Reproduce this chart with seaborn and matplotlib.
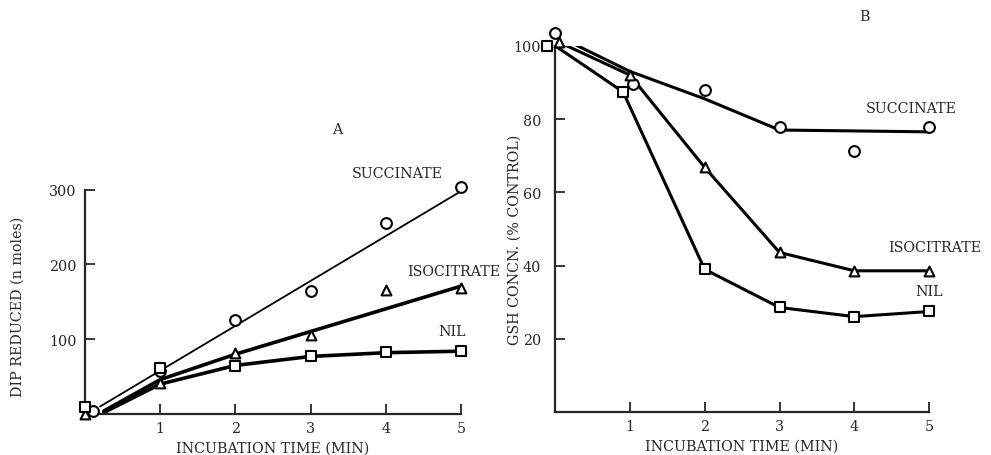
import seaborn as sns
import matplotlib.pyplot as plt

# panel A: DIP reduced (n moles) vs incubation time
a_succ_x = [0.1, 1, 2, 3, 4, 5]
a_succ_y = [4, 57, 126, 164, 255, 304]
a_iso_x = [0.0, 1, 2, 3, 4, 5]
a_iso_y = [0, 41, 81, 106, 166, 169]
a_nil_x = [0.0, 1, 2, 3, 4, 5]
a_nil_y = [10, 61, 64, 77, 83, 84]

# fitted curves drawn through panel A
a_succ_fit_x = [0.2, 5]
a_succ_fit_y = [10, 298]
a_iso_fit_x = [0.25, 1, 2, 5]
a_iso_fit_y = [4, 46, 80, 171]
a_nil_fit_x = [0.25, 1, 2, 3, 4, 5]
a_nil_fit_y = [2, 40, 65, 77, 82, 84]

# panel B: GSH concn (% control) vs incubation time
b_succ_x = [0.0, 1.04, 2, 3, 4, 5]
b_succ_y = [103.4, 89.5, 88, 77.7, 71.4, 77.9]
b_iso_x = [0.05, 1, 2, 3, 4, 5]
b_iso_y = [101, 92, 66.8, 43.6, 38.6, 38.6]
b_nil_x = [-0.1, 0.91, 2, 3, 4, 5]
b_nil_y = [100, 87.4, 39, 28.6, 26.1, 27.5]

b_succ_fit_x = [0.05, 1, 2, 3, 5]
b_succ_fit_y = [102.5, 93, 85.5, 77, 76.5]
b_iso_fit_x = [0.05, 1, 2, 3, 4, 5]
b_iso_fit_y = [101, 92, 66.8, 43.6, 38.6, 38.6]
b_nil_fit_x = [0.0, 0.91, 2, 3, 4, 5]
b_nil_fit_y = [100, 87.4, 39, 28.6, 26.1, 27.5]

FS = 10.3

sns.set_style("ticks")
plt.rcParams['font.family'] = ['DejaVu Serif']
plt.rcParams['font.size'] = FS

fig = plt.figure(figsize=(9.91, 4.56), dpi=100)
ax_a = fig.add_axes([0.0858, 0.0899, 0.3794, 0.4919])
ax_b = fig.add_axes([0.56, 0.0936, 0.3777, 0.804])


def draw_curve(ax, x, y, lw):
    sns.lineplot(x=x, y=y, ax=ax, sort=False, estimator=None, color='black',
                 linewidth=lw, zorder=2)


def draw_points(ax, x, y, marker, size):
    sns.scatterplot(x=x, y=y, ax=ax, marker=marker, s=size, facecolor='white',
                    edgecolor='black', linewidth=1.5, zorder=3, clip_on=False)


def style_axes(ax, ymax, yticks, ypad):
    ax.set_xlim(0, 5)
    ax.set_ylim(0, ymax)
    ax.set_xticks([1, 2, 3, 4, 5])
    ax.set_yticks(yticks)
    ax.tick_params(direction='in', length=7, width=1.3, pad=5, labelsize=FS)
    ax.tick_params(axis='y', pad=ypad)
    sns.despine(ax=ax)
    for side in ['left', 'bottom']:
        ax.spines[side].set_linewidth(1.6)
    ax.set_xlabel("INCUBATION TIME (MIN)", fontsize=FS, labelpad=4)


# panel A
draw_curve(ax_a, a_succ_fit_x, a_succ_fit_y, 1.3)
draw_curve(ax_a, a_iso_fit_x, a_iso_fit_y, 2.6)
draw_curve(ax_a, a_nil_fit_x, a_nil_fit_y, 2.6)
draw_points(ax_a, a_succ_x, a_succ_y, 'o', 60)
draw_points(ax_a, a_iso_x, a_iso_y, '^', 50)
draw_points(ax_a, a_nil_x, a_nil_y, 's', 55)
style_axes(ax_a, 300, [100, 200, 300], 6)
ax_a.set_ylabel("DIP REDUCED (n moles)", fontsize=FS)
ax_a.yaxis.set_label_coords(-0.16, 0.48)
ax_a.text(3.36, 381, "A", ha='center', va='center', clip_on=False)
ax_a.text(4.15, 323, "SUCCINATE", ha='center', va='center', clip_on=False)
ax_a.text(4.9, 191, "ISOCITRATE", ha='center', va='center', clip_on=False)
ax_a.text(4.88, 111, "NIL", ha='center', va='center', clip_on=False)

# panel B
draw_curve(ax_b, b_succ_fit_x, b_succ_fit_y, 2.2)
draw_curve(ax_b, b_iso_fit_x, b_iso_fit_y, 2.2)
draw_curve(ax_b, b_nil_fit_x, b_nil_fit_y, 2.2)
draw_points(ax_b, b_succ_x, b_succ_y, 'o', 60)
draw_points(ax_b, b_iso_x, b_iso_y, '^', 50)
draw_points(ax_b, b_nil_x, b_nil_y, 's', 55)
style_axes(ax_b, 100, [20, 40, 60, 80, 100], 10)
ax_b.set_ylabel("GSH CONCN. (% CONTROL)", fontsize=FS)
ax_b.yaxis.set_label_coords(-0.088, 0.473)
ax_b.text(4.14, 108, "B", ha='center', va='center', clip_on=False)
ax_b.text(4.76, 83, "SUCCINATE", ha='center', va='center', clip_on=False)
ax_b.text(5.07, 45, "ISOCITRATE", ha='center', va='center', clip_on=False)
ax_b.text(5.0, 33, "NIL", ha='center', va='center', clip_on=False)

fig.savefig("out.png", dpi=100)
